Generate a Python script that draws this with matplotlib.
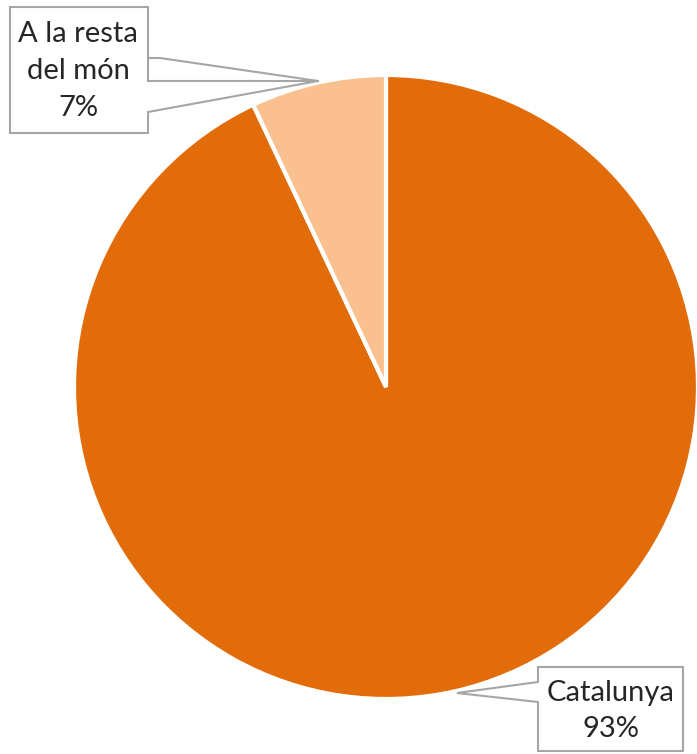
import matplotlib
matplotlib.use("Agg")
import matplotlib.pyplot as plt
from matplotlib.patches import Polygon

categories = ["Catalunya", "A la resta\ndel món"]
values = [93, 7]
colors = ["#E36C0A", "#FAC090"]

W, H = 697, 754
fig = plt.figure(figsize=(W / 100, H / 100), dpi=100)
ax = fig.add_axes([0, 0, 1, 1])
ax.set_xlim(0, W)
ax.set_ylim(0, H)
ax.set_aspect("equal")
ax.axis("off")

def Y(y):
    return H - y

cx, cy, r = 386, Y(387), 312
ax.pie(values, colors=colors, startangle=90, counterclock=False,
       center=(cx, cy), radius=r, frame=True,
       wedgeprops=dict(edgecolor="white", linewidth=3))
ax.set_xlim(0, W)
ax.set_ylim(0, H)
ax.axis("off")

line_c = "#A6A6A6"
# Top-left callout
poly1 = [(10, 7), (148, 7), (148, 58), (160, 58), (318, 81), (148, 112),
         (148, 133), (10, 133)]
ax.add_patch(Polygon([(x, Y(y)) for x, y in poly1], closed=True,
                     facecolor="white", edgecolor=line_c, lw=1.5, zorder=5))
ax.plot([148, 318], [Y(81), Y(81)], color=line_c, lw=1.5, zorder=6)
ax.plot([148, 148], [Y(58), Y(81)], color=line_c, lw=1.5, zorder=6)

# Bottom-right callout
poly2 = [(538, 667), (683, 667), (683, 751), (538, 751), (538, 702),
         (457, 693), (538, 682)]
ax.add_patch(Polygon([(x, Y(y)) for x, y in poly2], closed=True,
                     facecolor="white", edgecolor=line_c, lw=1.5, zorder=5))

tc = "#262626"
font = ["Lato", "DejaVu Sans"]
pct = [f"{v}%" for v in values]
ax.text(78, Y(71), categories[1] + "\n" + pct[1], ha="center", va="center",
        fontsize=21, color=tc, family=font, linespacing=1.5, zorder=7)
ax.text(611, Y(711), categories[0] + "\n" + pct[0], ha="center", va="center",
        fontsize=21, color=tc, family=font, linespacing=1.5, zorder=7)

fig.savefig("out.png", dpi=100)
